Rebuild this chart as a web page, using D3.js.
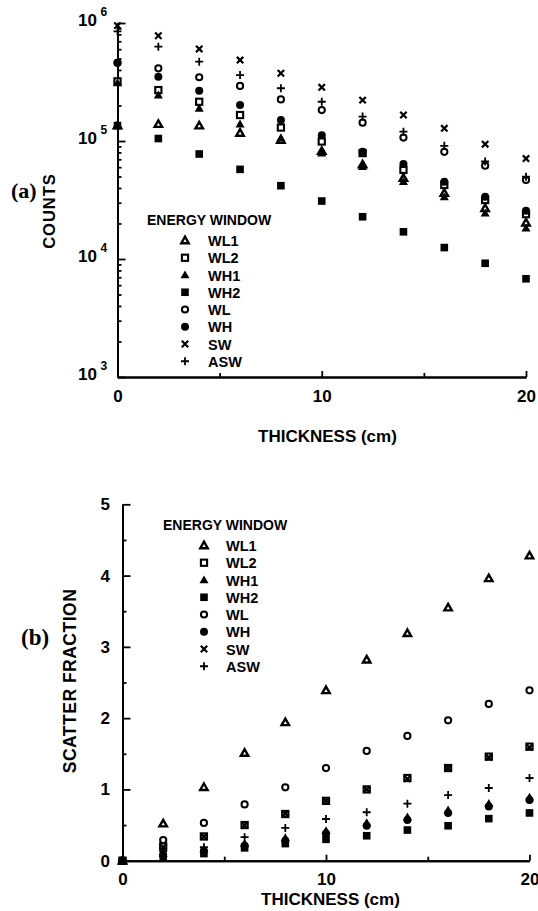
<!DOCTYPE html>
<html>
<head>
<meta charset="utf-8">
<script src="https://cdn.jsdelivr.net/npm/d3@7"></script>
<style>
	body { margin: 0; background: #fff; }
	svg text { font-family: "Liberation Sans", Arial, Helvetica, sans-serif; font-weight: bold; fill: #000; }
	.panel { font-family: "Liberation Serif", "Times New Roman", serif !important; }
</style>
</head>
<body>
<svg id="fig" width="538" height="911"></svg>
<script>
// ---------------------------------------------------------------
// Data
// ---------------------------------------------------------------
const thickness = [0, 2, 4, 6, 8, 10, 12, 14, 16, 18, 20];
const windows = ["WL1", "WL2", "WH1", "WH2", "WL", "WH", "SW", "ASW"];
const markerTypes = ["triOpen", "sqOpen", "triFill", "sqFill", "circOpen", "circFill", "cross", "plus"];

// (a) counts
const countsWL1 = [1.35e5, 1.39e5, 1.35e5, 1.17e5, 1.02e5, 8.2e4, 6.3e4, 4.85e4, 3.62e4, 2.69e4, 2.03e4];
const countsWL2 = [3.2e5, 2.7e5, 2.15e5, 1.66e5, 1.3e5, 9.9e4, 7.9e4, 5.7e4, 4.24e4, 3.16e4, 2.4e4];
const countsWH1 = [3.1e5, 2.45e5, 1.89e5, 1.39e5, 1.06e5, 7.9e4, 6.05e4, 4.52e4, 3.35e4, 2.44e4, 1.82e4];
const countsWH2 = [1.35e5, 1.05e5, 7.76e4, 5.75e4, 4.18e4, 3.1e4, 2.28e4, 1.7e4, 1.25e4, 9.2e3, 6.8e3];
const countsWL = [4.6e5, 4.13e5, 3.47e5, 2.93e5, 2.25e5, 1.83e5, 1.43e5, 1.07e5, 8.1e4, 6.18e4, 4.67e4];
const countsWH = [4.6e5, 3.51e5, 2.67e5, 2.02e5, 1.51e5, 1.12e5, 8.1e4, 6.38e4, 4.52e4, 3.37e4, 2.57e4];
const countsSW = [9.5e5, 7.8e5, 6.03e5, 4.85e5, 3.75e5, 2.85e5, 2.22e5, 1.66e5, 1.28e5, 9.4e4, 7.1e4];
const countsASW = [8.5e5, 6.3e5, 4.7e5, 3.62e5, 2.8e5, 2.15e5, 1.61e5, 1.2e5, 9.1e4, 6.7e4, 4.98e4];

// (b) scatter fraction
const sfWL1 = [0, 0.52, 1.03, 1.51, 1.94, 2.39, 2.82, 3.19, 3.55, 3.96, 4.28];
const sfWL2 = [0, 0.2, 0.34, 0.5, 0.655, 0.84, 1.0, 1.16, 1.3, 1.46, 1.6];
const sfWH1 = [0, 0.1, 0.16, 0.24, 0.32, 0.42, 0.53, 0.61, 0.71, 0.8, 0.89];
const sfWH2 = [0, 0.05, 0.1, 0.18, 0.24, 0.3, 0.35, 0.43, 0.49, 0.59, 0.67];
const sfWL = [0, 0.29, 0.53, 0.79, 1.03, 1.3, 1.54, 1.75, 1.97, 2.2, 2.39];
const sfWH = [0, 0.08, 0.14, 0.21, 0.28, 0.38, 0.49, 0.57, 0.67, 0.76, 0.85];
const sfSW = [0, 0.19, 0.34, 0.5, 0.66, 0.84, 1.0, 1.15, 1.3, 1.45, 1.59];
const sfASW = [0, 0.13, 0.19, 0.33, 0.46, 0.585, 0.68, 0.8, 0.92, 1.02, 1.16];

const countSeries = [countsWL1, countsWL2, countsWH1, countsWH2, countsWL, countsWH, countsSW, countsASW];
const sfSeries = [sfWL1, sfWL2, sfWH1, sfWH2, sfWL, sfWH, sfSW, sfASW];

const countTicks = [1e3, 1e4, 1e5, 1e6];
const thickTicks = [0, 10, 20];
const thickMinor = [5, 15];
const sfTicks = [0, 1, 2, 3, 4, 5];
const sfMinor = [0.5, 1.5, 2.5, 3.5, 4.5];

const svg = d3.select("#fig");

// ---------------------------------------------------------------
// Markers
// ---------------------------------------------------------------
function triPath(r) {
	return `M0,${-r} L${r * 0.98},${r * 0.72} L${-r * 0.98},${r * 0.72} Z`;
}

function marker(sel, type) {
	switch (type) {
		case "triOpen":
			sel.append("path").attr("d", triPath(3.8)).attr("fill", "#fff")
				.attr("stroke", "#000").attr("stroke-width", 2.4).attr("stroke-linejoin", "miter");
			break;
		case "triFill":
			sel.append("path").attr("d", triPath(4.6)).attr("fill", "#000");
			break;
		case "sqOpen":
			sel.append("rect").attr("x", -3.1).attr("y", -3.1).attr("width", 6.2).attr("height", 6.2)
				.attr("fill", "#fff").attr("stroke", "#000").attr("stroke-width", 2.1);
			break;
		case "sqFill":
			sel.append("rect").attr("x", -3.8).attr("y", -3.8).attr("width", 7.6).attr("height", 7.6)
				.attr("fill", "#000");
			break;
		case "circOpen":
			sel.append("circle").attr("r", 3.1).attr("fill", "#fff")
				.attr("stroke", "#000").attr("stroke-width", 2);
			break;
		case "circFill":
			sel.append("circle").attr("r", 4).attr("fill", "#000");
			break;
		case "cross":
			sel.append("path").attr("d", "M-3.2,-3.2 L3.2,3.2 M-3.2,3.2 L3.2,-3.2")
				.attr("stroke", "#000").attr("stroke-width", 2.2).attr("fill", "none");
			break;
		case "plus":
			sel.append("path").attr("d", "M-4,0 L4,0 M0,-4 L0,4")
				.attr("stroke", "#000").attr("stroke-width", 1.8).attr("fill", "none");
			break;
	}
}

function drawSeries(g, xs, ys, series) {
	series.forEach((vals, i) => {
		g.append("g")
			.selectAll("g")
			.data(thickness.map((t, j) => ({ t, v: vals[j] })))
			.join("g")
			.attr("transform", (d) => `translate(${xs(d.t)},${ys(d.v)})`)
			.each(function () { marker(d3.select(this), markerTypes[i]); });
	});
}

function drawLegend(g, x0, y0, mx, lx) {
	g.append("text").attr("x", x0).attr("y", y0).style("font-size", "14px").text("ENERGY WINDOW");
	windows.forEach((w, i) => {
		const cy = y0 + 15.5 + i * 17.25;
		const m = g.append("g").attr("transform", `translate(${mx},${cy})`);
		marker(m, markerTypes[i]);
		g.append("text").attr("x", lx).attr("y", cy + 5.5).style("font-size", "14.5px").text(w);
	});
}

function styleAxis(gEl) {
	gEl.select(".domain").attr("stroke", "#000").attr("stroke-width", 2);
	gEl.selectAll("line").attr("stroke", "#000").attr("stroke-width", 1.8);
	gEl.selectAll("text").attr("font-family", null).attr("font-size", null).style("font-size", "17px");
}

// ---------------------------------------------------------------
// (a) Counts vs thickness, log scale
// ---------------------------------------------------------------
const gA = svg.append("g");
const xA = d3.scaleLinear().domain([0, 20]).range([117.5, 526]);
const yA = d3.scaleLog().domain([1e3, 1e6]).range([377, 23]);

const minorCounts = [];
[1e3, 1e4, 1e5].forEach((dec) => { for (let k = 2; k <= 9; k++) minorCounts.push(dec * k); });

gA.append("g").attr("transform", "translate(117.5,0)")
	.call(d3.axisLeft(yA).tickValues(minorCounts).tickSizeInner(-4).tickSizeOuter(0).tickFormat(""))
	.call(styleAxis);
gA.append("g").attr("transform", "translate(117.5,0)")
	.call(d3.axisLeft(yA).tickValues(countTicks).tickSizeInner(-8).tickSizeOuter(0).tickFormat(""))
	.call(styleAxis);
gA.append("g").attr("transform", "translate(0,377)")
	.call(d3.axisBottom(xA).tickValues(thickMinor).tickSizeInner(-4).tickSizeOuter(0).tickFormat(""))
	.call(styleAxis);
gA.append("g").attr("transform", "translate(0,377)")
	.call(d3.axisBottom(xA).tickValues(thickTicks).tickSizeInner(-6).tickSizeOuter(0).tickPadding(13).tickFormat(d3.format("d")))
	.call(styleAxis);

countTicks.forEach((v) => {
	const y = yA(v);
	gA.append("text").attr("x", 97).attr("y", y + 3).attr("text-anchor", "end")
		.style("font-size", "17px").text("10");
	gA.append("text").attr("x", 100.5).attr("y", y - 7).style("font-size", "12px")
		.text(Math.round(Math.log10(v)));
});

gA.append("text").attr("transform", "translate(54.5,211) rotate(-90)").attr("text-anchor", "middle")
	.style("font-size", "16.5px").style("letter-spacing", "1px").text("COUNTS");
gA.append("text").attr("class", "panel").attr("x", 11).attr("y", 198)
	.style("font-size", "22px").text("(a)");
gA.append("text").attr("x", 258).attr("y", 442).style("font-size", "17px").text("THICKNESS (cm)");

drawLegend(gA, 147, 225, 185, 208);
drawSeries(gA, xA, yA, countSeries);

// ---------------------------------------------------------------
// (b) Scatter fraction vs thickness
// ---------------------------------------------------------------
const gB = svg.append("g");
const xB = d3.scaleLinear().domain([0, 20]).range([122.5, 529.5]);
const yB = d3.scaleLinear().domain([0, 5]).range([860.7, 504.3]);

gB.append("g").attr("transform", "translate(122.5,0)")
	.call(d3.axisLeft(yB).tickValues(sfMinor).tickSizeInner(-4).tickSizeOuter(0).tickFormat(""))
	.call(styleAxis);
gB.append("g").attr("transform", "translate(122.5,0)")
	.call(d3.axisLeft(yB).tickValues(sfTicks).tickSizeInner(-8).tickSizeOuter(0).tickPadding(12.5).tickFormat(d3.format("d")))
	.call(styleAxis);
gB.append("g").attr("transform", "translate(0,860.7)")
	.call(d3.axisBottom(xB).tickValues(thickMinor).tickSizeInner(-4).tickSizeOuter(0).tickFormat(""))
	.call(styleAxis);
gB.append("g").attr("transform", "translate(0,860.7)")
	.call(d3.axisBottom(xB).tickValues(thickTicks).tickSizeInner(-6).tickSizeOuter(0).tickPadding(12).tickFormat(d3.format("d")))
	.call(styleAxis);

gB.append("text").attr("transform", "translate(75.5,681) rotate(-90)").attr("text-anchor", "middle")
	.style("font-size", "17.5px").style("letter-spacing", "0.5px").text("SCATTER  FRACTION");
gB.append("text").attr("class", "panel").attr("x", 21).attr("y", 645)
	.style("font-size", "23px").text("(b)");
gB.append("text").attr("x", 261).attr("y", 905).style("font-size", "17px").text("THICKNESS (cm)");

drawLegend(gB, 163, 530, 204, 226);
drawSeries(gB, xB, yB, sfSeries);
</script>
</body>
</html>
